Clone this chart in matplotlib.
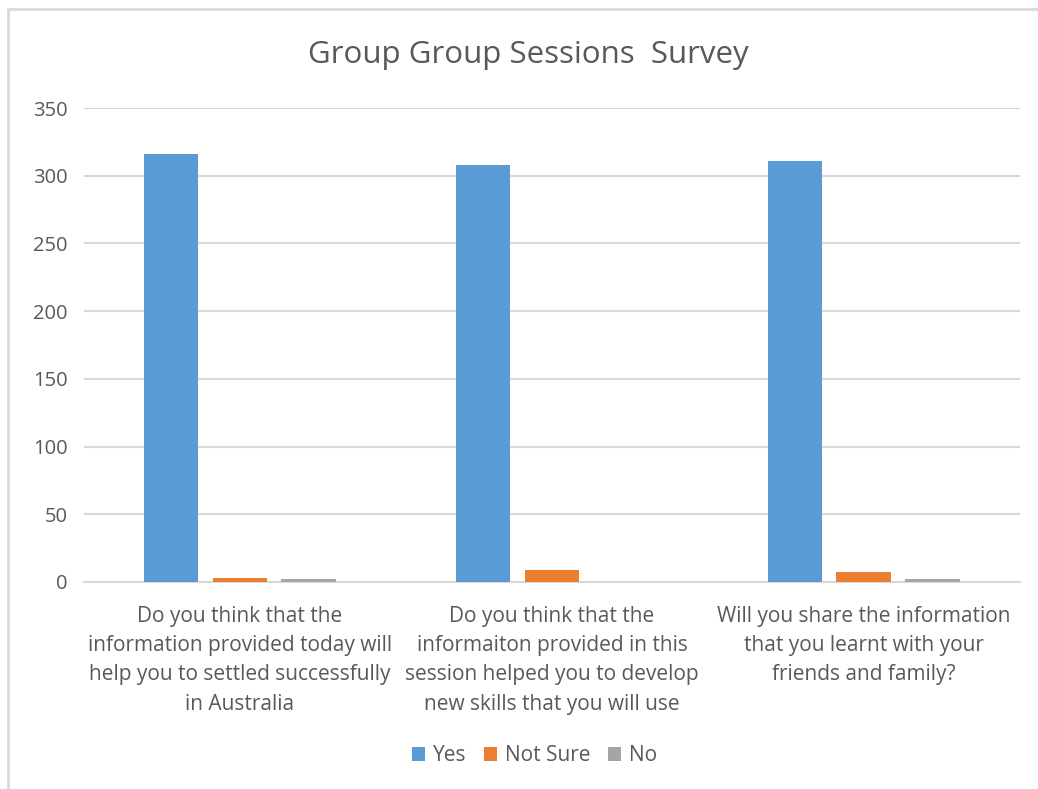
import matplotlib.pyplot as plt
import numpy as np
from matplotlib.lines import Line2D
from matplotlib.patches import Patch

categories = [
	"Do you think that the\ninformation provided today will\nhelp you to settled successfully\nin Australia",
	"Do you think that the\ninformaiton provided in this\nsession helped you to develop\nnew skills that you will use",
	"Will you share the information\nthat you learnt with your\nfriends and family?",
]
series_names = ["Yes", "Not Sure", "No"]
yes_counts = [316, 308, 311]
not_sure_counts = [3, 9, 7]
no_counts = [2, 0, 2]
colors = ["#5b9bd5", "#ed7d31", "#a5a5a5"]
text_color = "#595959"

plt.rcParams["font.family"] = ["Open Sans", "DejaVu Sans"]

fig = plt.figure(figsize=(10.38, 7.89), dpi=100)
ax = fig.add_axes([0.0809, 0.2624, 0.9017, 0.6007])

x = np.arange(len(categories))
bar_w = 0.176
step = 0.221
for i, (vals, name) in enumerate(zip([yes_counts, not_sure_counts, no_counts], series_names)):
	ax.bar(x + (i - 1) * step, vals, width=bar_w, color=colors[i], label=name, zorder=3)

ax.set_xlim(-0.5, len(categories) - 0.5)
ax.set_ylim(0, 350)
ax.set_yticks(np.arange(0, 351, 50))
ax.grid(axis="y", color="#d9d9d9", linewidth=1.5, zorder=0)
for s in ["top", "right", "left"]:
	ax.spines[s].set_visible(False)
ax.spines["bottom"].set_color("#d9d9d9")
ax.spines["bottom"].set_linewidth(1.5)
ax.tick_params(axis="y", length=0, labelsize=14.5, labelcolor=text_color, pad=12)
ax.tick_params(axis="x", length=0, labelsize=15, labelcolor=text_color, pad=17)
ax.set_xticks(x)
ax.set_xticklabels(categories, linespacing=1.52, va="top")

fig.text(0.509, 0.93, "Group Group Sessions  Survey", ha="center", va="center",
		 fontsize=22.5, color=text_color)

handles = [Patch(facecolor=c) for c in colors]
fig.legend(handles, series_names, loc="center", bbox_to_anchor=(0.515, 0.042), ncol=3,
		   frameon=False, fontsize=15, labelcolor=text_color, handlelength=0.6,
		   handleheight=0.6, handletextpad=0.4, columnspacing=0.85)

# chart border (left and top only visible in the screenshot)
fig.add_artist(Line2D([8 / 1038, 8 / 1038], [0, 1 - 9 / 789], color="#d9d9d9", linewidth=2))
fig.add_artist(Line2D([8 / 1038, 1], [1 - 9 / 789, 1 - 9 / 789], color="#d9d9d9", linewidth=2))

fig.savefig("out.png", dpi=100)
plt.close(fig)
